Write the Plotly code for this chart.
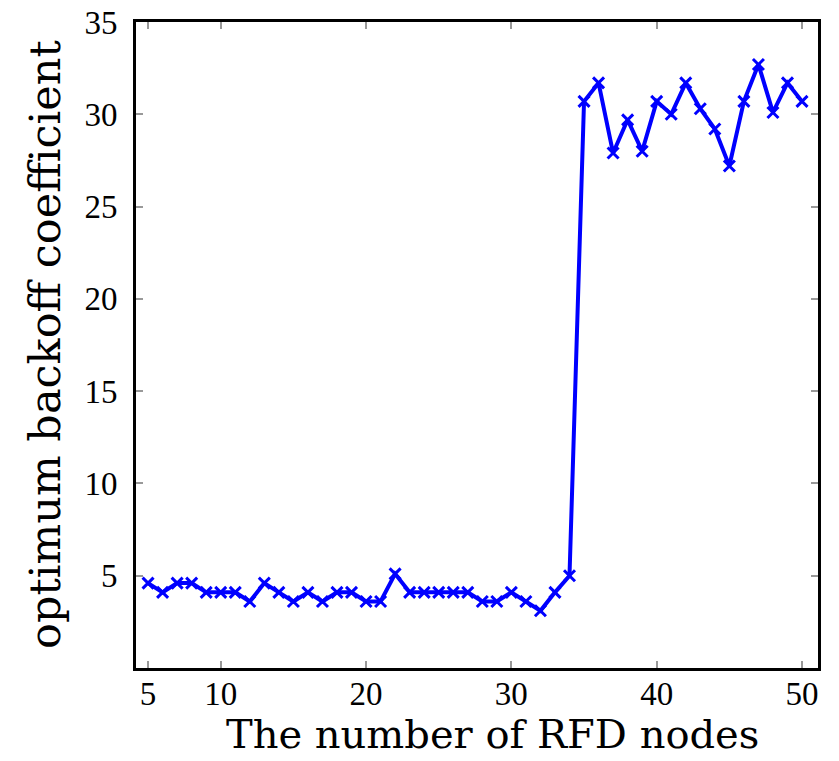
import plotly.graph_objects as go

# Number of RFD nodes
nodes = list(range(5, 51))

# Optimum backoff coefficient
coeff = [4.6, 4.1, 4.6, 4.6, 4.1, 4.1, 4.1, 3.6, 4.6, 4.1,
         3.6, 4.1, 3.6, 4.1, 4.1, 3.6, 3.6, 5.1, 4.1, 4.1,
         4.1, 4.1, 4.1, 3.6, 3.6, 4.1, 3.6, 3.1, 4.1, 5.0,
         30.7, 31.7, 27.9, 29.7, 28.0, 30.7, 30.0, 31.7, 30.3, 29.2,
         27.2, 30.7, 32.7, 30.1, 31.7, 30.7]

x_ticks = [5, 10, 20, 30, 40, 50]
y_ticks = [5, 10, 15, 20, 25, 30, 35]
x_title = "The number of RFD nodes"
y_title = "optimum backoff coefficient"

fig = go.Figure()
fig.add_trace(go.Scatter(
    x=nodes, y=coeff, mode="lines+markers",
    line=dict(color="#0000ff", width=4),
    marker=dict(symbol="x-thin", size=11, line=dict(color="#0000ff", width=3)),
    showlegend=False,
))

tick_font = dict(family="Liberation Serif", size=33, color="black")

W, H = 839, 761
L, R, T, B = 136, 21, 22, 93

fig.update_layout(
    width=W, height=H,
    margin=dict(l=L, r=R, t=T, b=B),
    paper_bgcolor="white", plot_bgcolor="white",
    xaxis=dict(
        range=[4.17, 51.1], tickvals=x_ticks, ticktext=[str(v) for v in x_ticks],
        ticks="inside", ticklen=7, tickcolor="#999999", tickwidth=1.5,
        showline=True, linewidth=3, linecolor="black", mirror="ticks",
        showgrid=False, zeroline=False, tickfont=tick_font, automargin=False,
        ticklabelstandoff=-6, ticklabeloverflow="allow",
    ),
    yaxis=dict(
        range=[0, 35], tickvals=y_ticks, ticktext=[str(v) for v in y_ticks],
        ticks="inside", ticklen=7, tickcolor="#999999", tickwidth=1.5,
        showline=True, linewidth=3, linecolor="black", mirror="ticks",
        showgrid=False, zeroline=False, tickfont=tick_font, automargin=False,
        ticklabelstandoff=9, ticklabeloverflow="allow",
    ),
    annotations=[
        dict(text=x_title, xref="paper", yref="paper",
             x=(492 - L) / (W - L - R), y=-(734 - (H - B)) / (H - T - B),
             xanchor="center", yanchor="middle", showarrow=False,
             font=dict(family="DejaVu Serif", size=40, color="black")),
        dict(text=y_title, xref="paper", yref="paper", textangle=-90,
             x=-(L - 45) / (W - L - R), y=0.5,
             xanchor="center", yanchor="middle", showarrow=False,
             font=dict(family="DejaVu Serif", size=43, color="black")),
    ],
)

fig.write_html(
    "out.html",
    config={"displayModeBar": False},
    post_script="document.body.style.margin='0';document.body.style.overflow='hidden';",
)
